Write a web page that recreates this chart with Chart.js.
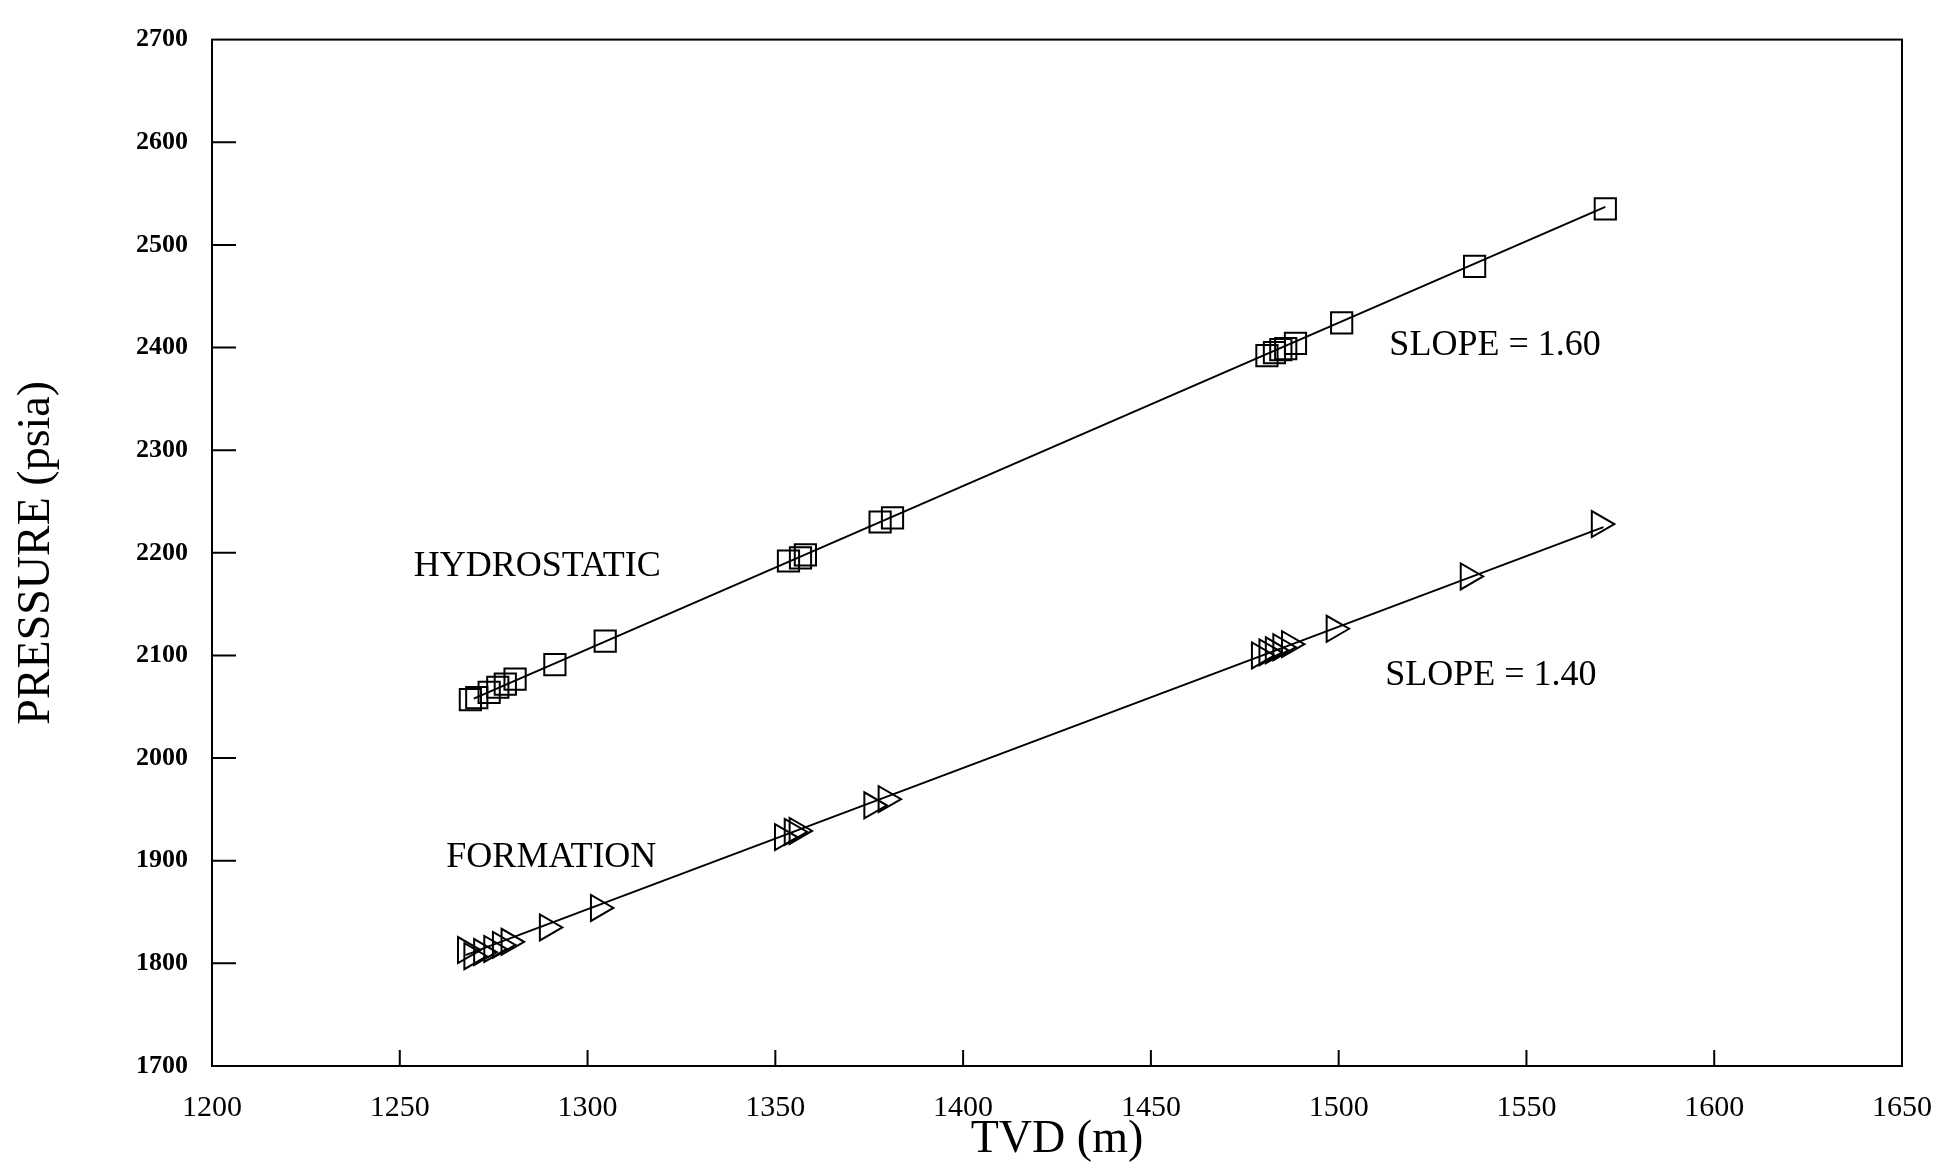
<!DOCTYPE html>
<html>
<head>
<meta charset="utf-8">
<script src="https://cdn.jsdelivr.net/npm/chart.js@4/dist/chart.umd.min.js"></script>
<style>
  html, body { margin: 0; padding: 0; background: #fff; }
  #wrap { width: 1956px; height: 1171px; }
</style>
</head>
<body>
<div id="wrap"><canvas id="myChart"></canvas></div>
<script>
// TVD (m) and pressure (psia)
const hydroDepth = [1268.8, 1270.5, 1273.8, 1276.1, 1278.1, 1280.7, 1291.3, 1304.7, 1353.5, 1356.7, 1358.0, 1377.9, 1381.2, 1480.9, 1482.9, 1484.6, 1485.9, 1488.5, 1500.8, 1536.2, 1571.0];
const hydroPressure = [2057, 2059, 2064, 2069, 2072, 2077, 2091, 2114, 2192, 2195, 2198, 2230, 2234, 2392, 2395, 2398, 2399, 2404, 2424, 2479, 2535];

const formDepth = [1267.5, 1269.2, 1271.8, 1274.5, 1276.8, 1279.1, 1289.3, 1302.9, 1351.9, 1354.5, 1355.8, 1375.7, 1379.5, 1478.9, 1480.9, 1482.6, 1484.6, 1486.9, 1498.8, 1534.5, 1569.4];
const formPressure = [1813, 1807, 1811, 1814, 1818, 1821, 1835, 1854, 1923, 1928, 1929, 1954, 1960, 2100, 2103, 2105, 2108, 2111, 2126, 2177, 2228];

// fitted lines (end points)
const hydroFitDepth = [1269.7, 1571.0];
const hydroFitPressure = [2058, 2537];
const formFitDepth = [1267.5, 1570.5];
const formFitPressure = [1808, 2225];

// text on the plot: [label, depth, pressure]
const notes = [
  ['HYDROSTATIC', 1253.7, 2187],
  ['FORMATION', 1262.4, 1903.5],
  ['SLOPE = 1.60', 1513.5, 2401.6],
  ['SLOPE = 1.40', 1512.4, 2080]
];

const toPts = (xs, ys) => xs.map((x, i) => ({x: x, y: ys[i]}));
const serif = '"Liberation Serif", "Times New Roman", serif';

const frameAndTicks = {
  id: 'frameAndTicks',
  afterDraw(chart) {
    const ctx = chart.ctx;
    const a = chart.chartArea;
    const xs = chart.scales.x, ys = chart.scales.y;
    ctx.save();
    ctx.strokeStyle = '#000';
    ctx.lineWidth = 2;
    ctx.strokeRect(a.left, a.top, a.right - a.left, a.bottom - a.top);
    ctx.beginPath();
    ys.ticks.forEach(t => {
      if (t.value <= ys.min || t.value >= ys.max) return;
      const y = ys.getPixelForValue(t.value);
      ctx.moveTo(a.left, y);
      ctx.lineTo(a.left + 24, y);
    });
    xs.ticks.forEach(t => {
      if (t.value <= xs.min || t.value >= xs.max) return;
      const x = xs.getPixelForValue(t.value);
      ctx.moveTo(x, a.bottom);
      ctx.lineTo(x, a.bottom - 16);
    });
    ctx.stroke();
    ctx.fillStyle = '#000';
    ctx.font = '36px ' + serif;
    ctx.textAlign = 'left';
    ctx.textBaseline = 'middle';
    notes.forEach(n => {
      ctx.fillText(n[0], xs.getPixelForValue(n[1]), ys.getPixelForValue(n[2]));
    });
    ctx.restore();
  }
};

const config = {
  type: 'scatter',
  data: {
    datasets: [
      {
        label: 'Hydrostatic fit',
        data: toPts(hydroFitDepth, hydroFitPressure),
        showLine: true,
        pointRadius: 0,
        borderColor: '#000',
        borderWidth: 2
      },
      {
        label: 'Formation fit',
        data: toPts(formFitDepth, formFitPressure),
        showLine: true,
        pointRadius: 0,
        borderColor: '#000',
        borderWidth: 2
      },
      {
        label: 'Hydrostatic',
        data: toPts(hydroDepth, hydroPressure),
        pointStyle: 'rect',
        pointRadius: 15,
        borderColor: '#000',
        backgroundColor: 'rgba(0,0,0,0)',
        borderWidth: 2
      },
      {
        label: 'Formation',
        data: toPts(formDepth, formPressure),
        pointStyle: 'triangle',
        pointRotation: 90,
        pointRadius: 15,
        borderColor: '#000',
        backgroundColor: 'rgba(0,0,0,0)',
        borderWidth: 2
      }
    ]
  },
  options: {
    responsive: true,
    maintainAspectRatio: false,
    animation: false,
    layout: { padding: { top: 34, right: 50, bottom: 0, left: 0 } },
    plugins: {
      legend: { display: false },
      tooltip: { enabled: false }
    },
    scales: {
      x: {
        type: 'linear',
        min: 1200,
        max: 1650,
        grid: { display: false, drawTicks: false },
        border: { display: false },
        ticks: {
          stepSize: 50,
          color: '#000',
          padding: 24,
          maxRotation: 0,
          callback: v => String(v),
          font: { family: serif, size: 30 }
        },
        title: {
          display: true,
          text: 'TVD (m)',
          color: '#000',
          padding: { top: 0, bottom: 3 },
          font: { family: serif, size: 46 }
        },
        afterFit(scale) { scale.height = 105; }
      },
      y: {
        type: 'linear',
        min: 1700,
        max: 2700,
        grid: { display: false, drawTicks: false },
        border: { display: false },
        ticks: {
          stepSize: 100,
          color: '#000',
          padding: 24,
          callback: v => String(v),
          font: { family: serif, size: 26, weight: 'bold' }
        },
        title: {
          display: true,
          text: 'PRESSURE (psia)',
          color: '#000',
          padding: { top: 9, bottom: 0 },
          font: { family: serif, size: 46 }
        },
        afterFit(scale) { scale.width = 212; }
      }
    }
  },
  plugins: [frameAndTicks]
};

new Chart(document.getElementById('myChart').getContext('2d'), config);
</script>
</body>
</html>
